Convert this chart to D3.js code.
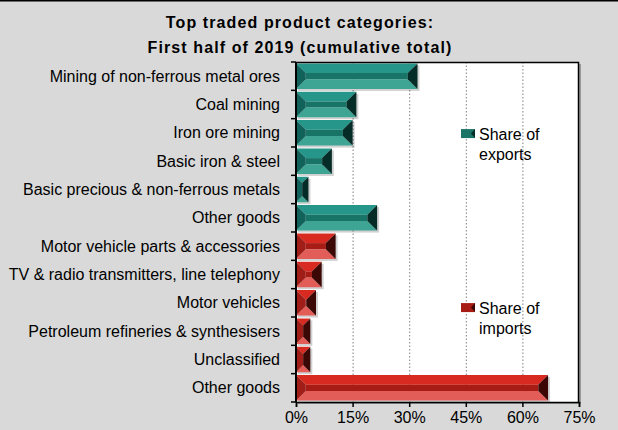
<!DOCTYPE html>
<html lang="en">
<head>
<meta charset="utf-8">
<title>Top traded product categories</title>
<script src="https://d3js.org/d3.v7.min.js"></script>
<style>
  body { margin: 0; background: #d9d9d9; }
  svg { display: block; font-family: "Liberation Sans", Arial, sans-serif; }
</style>
</head>
<body>
<script>
// categories, top to bottom
var categories = [
  "Mining of non-ferrous metal ores",
  "Coal mining",
  "Iron ore mining",
  "Basic iron & steel",
  "Basic precious & non-ferrous metals",
  "Other goods",
  "Motor vehicle parts & accessories",
  "TV & radio transmitters, line telephony",
  "Motor vehicles",
  "Petroleum refineries & synthesisers",
  "Unclassified",
  "Other goods"
];
// share (%) of each category
var values = [32.2, 16.0, 15.0, 9.5, 3.3, 21.5, 10.5, 6.8, 5.3, 3.8, 3.8, 66.8];
// which series each bar belongs to
var series = ["exports", "exports", "exports", "exports", "exports", "exports",
              "imports", "imports", "imports", "imports", "imports", "imports"];
var xTicks = [0, 15, 30, 45, 60, 75];
var legendLabels = [["Share of", "exports"], ["Share of", "imports"]];

var W = 618, H = 430;
var margin = {top: 62, right: 39, bottom: 28, left: 296},
    width = W - margin.left - margin.right,
    height = H - margin.top - margin.bottom;

// bevel colours: top, face, bottom, left, right
var pal = {
  exports: {top: "#27968a", face: "#187466", bottom: "#3ea595", left: "#10625a", right: "#062c27"},
  imports: {top: "#d92a21", face: "#a81c16", bottom: "#e25d58", left: "#a11d18", right: "#3b0806"}
};

var svg = d3.select("body").append("svg")
    .attr("width", W)
    .attr("height", H);

svg.append("rect").attr("width", W).attr("height", H).attr("fill", "#d9d9d9");
svg.append("line").attr("x1", 0).attr("x2", W).attr("y1", 0.5).attr("y2", 0.5)
    .attr("stroke", "#000").attr("stroke-width", 2);

// title
svg.append("text")
    .attr("x", 300).attr("y", 28)
    .attr("text-anchor", "middle")
    .attr("font-size", 16).attr("font-weight", "bold")
    .attr("letter-spacing", 1.1)
    .text("Top traded product categories:");
svg.append("text")
    .attr("x", 300).attr("y", 53)
    .attr("text-anchor", "middle")
    .attr("font-size", 16).attr("font-weight", "bold")
    .attr("letter-spacing", 1.1)
    .text("First half of 2019 (cumulative total)");

var g = svg.append("g").attr("transform", "translate(" + margin.left + "," + margin.top + ")");

var x = d3.scaleLinear().domain([0, 75]).range([0, width]);
var y = d3.scaleBand()
    .domain(d3.range(categories.length))
    .range([0, height])
    .paddingInner(0.1)
    .paddingOuter(0.05);
var step = y.step();

// plot background with shadow
g.append("rect").attr("x", 2).attr("y", 2).attr("width", width).attr("height", height).attr("fill", "#9a9a9a");
g.append("rect").attr("width", width).attr("height", height).attr("fill", "#fff");

// gridlines
g.append("g").selectAll("line")
    .data(xTicks.slice(1, -1))
    .enter().append("line")
    .attr("x1", function(d) { return x(d) + 0.5; })
    .attr("x2", function(d) { return x(d) + 0.5; })
    .attr("y1", 0).attr("y2", height)
    .attr("stroke", "#7f7f7f")
    .attr("stroke-dasharray", "1.5,2");

// bars
var bars = g.append("g").selectAll("g")
    .data(values.map(function(v, i) { return {v: v, i: i, s: series[i]}; }))
    .enter().append("g")
    .attr("transform", function(d) { return "translate(" + x(0) + "," + y(d.i) + ")"; });

bars.each(function(d) {
  var w = x(d.v) - x(0), h = y.bandwidth();
  var b = Math.min(h * 0.38, w / 2);
  var c = pal[d.s];
  var sel = d3.select(this);
  sel.append("rect").attr("x", 2).attr("y", 2).attr("width", w).attr("height", h)
      .attr("fill", "#000").attr("opacity", 0.18);
  var polys = [
    [c.face, [[b, b], [w - b, b], [w - b, h - b], [b, h - b]]],
    [c.top, [[0, 0], [w, 0], [w - b, b], [b, b]]],
    [c.bottom, [[0, h], [w, h], [w - b, h - b], [b, h - b]]],
    [c.left, [[0, 0], [b, b], [b, h - b], [0, h]]],
    [c.right, [[w, 0], [w - b, b], [w - b, h - b], [w, h]]]
  ];
  polys.forEach(function(p) {
    sel.append("polygon")
        .attr("points", p[1].map(function(pt) { return pt.join(","); }).join(" "))
        .attr("fill", p[0]);
  });
});

// frame: top and right
g.append("path")
    .attr("d", "M0,0.5H" + (width - 0.5) + "V" + height)
    .attr("fill", "none").attr("stroke", "#000").attr("stroke-width", 1.5);

// left axis with ticks at category boundaries
g.append("line").attr("x1", 0).attr("x2", 0).attr("y1", 0).attr("y2", height)
    .attr("stroke", "#000").attr("stroke-width", 2);
g.append("g").selectAll("line")
    .data(d3.range(categories.length + 1))
    .enter().append("line")
    .attr("x1", -5).attr("x2", 0)
    .attr("y1", function(i) { return i * step; })
    .attr("y2", function(i) { return i * step; })
    .attr("stroke", "#000").attr("stroke-width", 1.5);

// category labels
g.append("g").selectAll("text")
    .data(categories)
    .enter().append("text")
    .attr("x", -16)
    .attr("y", function(d, i) { return y(i) + y.bandwidth() / 2; })
    .attr("dy", "0.35em")
    .attr("text-anchor", "end")
    .attr("font-size", 16)
    .attr("fill", "#000")
    .text(function(d) { return d; });

// bottom axis
var xAxis = g.append("g")
    .attr("transform", "translate(0," + height + ")")
    .call(d3.axisBottom(x).tickValues(xTicks).tickSize(5).tickFormat(function(d) { return d + "%"; }));
xAxis.select(".domain").attr("stroke", "#000").attr("stroke-width", 1.5);
xAxis.selectAll(".tick line").attr("stroke", "#000").attr("stroke-width", 1.5);
xAxis.selectAll(".tick text")
    .attr("font-family", "Liberation Sans, Arial, sans-serif")
    .attr("font-size", 16).attr("fill", "#000").attr("y", 10);

// legend
var legendY = [y(2) + 9, y(8) + 13];
var legend = svg.append("g").selectAll("g")
    .data(["exports", "imports"])
    .enter().append("g")
    .attr("transform", function(d, i) { return "translate(461," + (margin.top + legendY[i]) + ")"; });

legend.each(function(s, i) {
  var c = pal[s], sel = d3.select(this), w = 14, h = 9, b = 4;
  [[c.face, [[0, 0], [w, 0], [w, h], [0, h]]],
   [c.right, [[w, 0], [w - b, h / 2], [w, h]]]].forEach(function(p) {
    sel.append("polygon")
        .attr("points", p[1].map(function(pt) { return pt.join(","); }).join(" "))
        .attr("fill", p[0]);
  });
  sel.append("text")
      .attr("x", 18).attr("y", 11)
      .attr("font-size", 16)
      .selectAll("tspan")
      .data(legendLabels[i])
      .enter().append("tspan")
      .attr("x", 18)
      .attr("dy", function(d, j) { return j ? 20 : 0; })
      .text(function(d) { return d; });
});
</script>
</body>
</html>
